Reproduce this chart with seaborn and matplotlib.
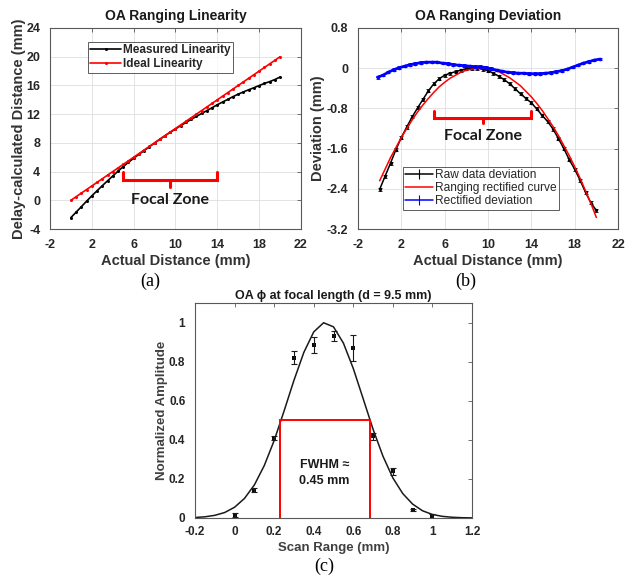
import numpy as np
import pandas as pd
import matplotlib
matplotlib.use("Agg")
import matplotlib.pyplot as plt
import seaborn as sns
from matplotlib.lines import Line2D

# ---------------- data ----------------
actual_mm = [0, 0.5, 1, 1.5, 2, 2.5, 3, 3.5, 4, 4.5, 5, 5.5, 6, 6.5, 7, 7.5, 8, 8.5, 9, 9.5,
             10, 10.5, 11, 11.5, 12, 12.5, 13, 13.5, 14, 14.5, 15, 15.5, 16, 16.5, 17, 17.5,
             18, 18.5, 19, 19.5, 20]
measured_mm = [-2.41, -1.65, -0.89, -0.12, 0.62, 1.33, 2.03, 2.71, 3.38, 4.05, 4.69, 5.29, 5.86,
               6.40, 6.93, 7.46, 7.99, 8.50, 9.00, 9.48, 9.95, 10.40, 10.84, 11.27, 11.69, 12.09,
               12.49, 12.90, 13.31, 13.69, 14.06, 14.44, 14.79, 15.10, 15.40, 15.68, 15.99, 16.27,
               16.53, 16.82, 17.17]
ideal_mm = [0, 0.5, 1, 1.5, 2, 2.5, 3, 3.5, 4, 4.5, 5, 5.5, 6, 6.5, 7, 7.5, 8, 8.5, 9, 9.5,
            10, 10.5, 11, 11.5, 12, 12.5, 13, 13.5, 14, 14.5, 15, 15.5, 16, 16.5, 17, 17.5,
            18, 18.5, 19, 19.5, 20]

raw_dev = [-2.41, -2.15, -1.89, -1.62, -1.38, -1.17, -0.97, -0.79, -0.62, -0.45, -0.31, -0.21,
           -0.14, -0.10, -0.07, -0.04, -0.01, 0.0, 0.0, -0.02, -0.05, -0.10, -0.16, -0.23, -0.31,
           -0.41, -0.51, -0.60, -0.69, -0.81, -0.94, -1.06, -1.21, -1.40, -1.60, -1.82, -2.01,
           -2.23, -2.47, -2.68, -2.83]
raw_err = [0.03] * 41

fit_dev = [-2.24, -2.01, -1.78, -1.58, -1.38, -1.20, -1.03, -0.87, -0.73, -0.60, -0.48, -0.37,
           -0.28, -0.20, -0.14, -0.08, -0.04, -0.02, 0.00, 0.00, -0.01, -0.04, -0.07, -0.13,
           -0.19, -0.27, -0.35, -0.46, -0.57, -0.70, -0.84, -1.00, -1.16, -1.34, -1.54, -1.74,
           -1.96, -2.19, -2.44, -2.69, -2.97]

rect_x = [-0.2, 0.3, 0.8, 1.3, 1.8, 2.3, 2.8, 3.3, 3.8, 4.3, 4.8, 5.3, 5.8, 6.3, 6.8, 7.3, 7.8,
          8.3, 8.8, 9.3, 9.8, 10.3, 10.8, 11.3, 11.8, 12.3, 12.8, 13.3, 13.8, 14.3, 14.8, 15.3,
          15.8, 16.3, 16.8, 17.3, 17.8, 18.3, 18.8, 19.3, 19.8, 20.3]
rect_dev = [-0.18, -0.14, -0.08, -0.03, 0.01, 0.04, 0.07, 0.09, 0.11, 0.12, 0.12, 0.12, 0.10,
            0.09, 0.07, 0.06, 0.05, 0.04, 0.03, 0.03, 0.01, -0.01, -0.04, -0.06, -0.08, -0.09,
            -0.10, -0.10, -0.11, -0.11, -0.11, -0.10, -0.09, -0.07, -0.05, -0.02, 0.02, 0.06,
            0.10, 0.13, 0.16, 0.18]
rect_err = [0.025] * 42

scan_x = [0, 0.1, 0.2, 0.3, 0.4, 0.5, 0.6, 0.7, 0.8, 0.9, 1.0]
scan_amp = [0.014, 0.141, 0.409, 0.82, 0.886, 0.932, 0.869, 0.417, 0.238, 0.043, 0.009]
scan_err = [0.010, 0.010, 0.008, 0.032, 0.040, 0.026, 0.066, 0.017, 0.020, 0.005, 0.010]

fit_x = [-0.2, -0.15, -0.1, -0.05, 0, 0.05, 0.1, 0.15, 0.2, 0.25, 0.3, 0.35, 0.4, 0.45, 0.5,
         0.55, 0.6, 0.65, 0.7, 0.75, 0.8, 0.85, 0.9, 0.95, 1.0, 1.05, 1.1, 1.15, 1.2]
fit_amp = [0.0026, 0.0061, 0.0136, 0.028, 0.055, 0.100, 0.169, 0.268, 0.396, 0.547, 0.704,
           0.847, 0.952, 0.999, 0.978, 0.895, 0.765, 0.610, 0.454, 0.316, 0.205, 0.125, 0.071,
           0.037, 0.018, 0.0085, 0.0037, 0.0015, 0.0006]

fwhm_left, fwhm_right, half_max = 0.23, 0.682, 0.5
focal_start, focal_end = 5, 14

# ---------------- style ----------------
sns.set_theme(style="white")
plt.rcParams['font.family'] = ['Liberation Sans', 'DejaVu Sans']
plt.rcParams['mathtext.fontset'] = 'dejavusans'

W, H = 629, 583
fig = plt.figure(figsize=(W / 100, H / 100), dpi=100)
fig.patch.set_facecolor('white')


def rect(l, t, r, b):
    return [l / W, 1 - b / H, (r - l) / W, (b - t) / H]


def style_axes(ax, grid=True, xpad=7, ypad=7, size=9):
    ax.set_facecolor('white')
    for s in ax.spines.values():
        s.set_visible(True)
        s.set_color('0.35')
        s.set_linewidth(0.8)
    ax.tick_params(direction='in', top=True, right=True, length=3, width=0.6,
                   color='0.35', labelsize=size)
    ax.tick_params(axis='x', pad=xpad)
    ax.tick_params(axis='y', pad=ypad)
    for lab in ax.get_xticklabels() + ax.get_yticklabels():
        lab.set_fontweight('bold')
        lab.set_color('0.15')
    if grid:
        ax.grid(True, color='0.87', linewidth=0.6)
        ax.set_axisbelow(True)
    else:
        ax.grid(False)


def fmt(v):
    s = f"{v:g}"
    return "0" if s in ("-0",) else s


# ---------------- panel (a) ----------------
axA = fig.add_axes(rect(50, 28, 301, 229))
sns.lineplot(x=actual_mm, y=measured_mm, ax=axA, color='black', linewidth=1.2,
             marker='o', markersize=2.2, markeredgewidth=0, estimator=None, sort=False,
             label='Measured Linearity')
sns.lineplot(x=actual_mm, y=ideal_mm, ax=axA, color='red', linewidth=1.2,
             marker='o', markersize=2.2, markeredgewidth=0, estimator=None, sort=False,
             label='Ideal Linearity')
axA.set_xlim(-2, 22)
axA.set_ylim(-4, 24)
axA.set_xticks(np.arange(-2, 23, 4))
axA.set_yticks(np.arange(-4, 25, 4))
axA.set_xticklabels([fmt(v) for v in np.arange(-2, 23, 4)])
axA.set_yticklabels([fmt(v) for v in np.arange(-4, 25, 4)])
style_axes(axA)
axA.set_title('OA Ranging Linearity', fontsize=10, fontweight='bold', pad=6, color='0.1')
axA.set_xlabel('Actual Distance (mm)', fontsize=10.5, fontweight='bold', color='0.2', labelpad=2)
axA.set_ylabel('Delay-calculated Distance (mm)', fontsize=10.5, fontweight='bold', color='0.2',
               labelpad=0.5)
legA = axA.legend(loc='upper left', bbox_to_anchor=(0.151, 0.93), borderaxespad=0,
                  prop={'weight': 'bold', 'size': 8.5}, frameon=True, fancybox=False,
                  edgecolor='0.2', handlelength=2.6, handletextpad=0.2, borderpad=0.2,
                  labelspacing=0.15)
legA.get_frame().set_linewidth(0.7)
# focal zone bracket
axA.plot([focal_start, focal_start, focal_end, focal_end], [3.9, 2.85, 2.85, 3.9],
         color='red', lw=2.2, solid_joinstyle='miter')
axA.plot([9.5, 9.5], [2.85, 1.9], color='red', lw=2.2)
axA.text(9.5, 0.0, 'Focal Zone', ha='center', va='center', fontsize=11.5,
         fontweight='bold', family=['Lato', 'DejaVu Sans'], color='0.1')

# ---------------- panel (b) ----------------
axB = fig.add_axes(rect(358, 28, 618, 229))
eb_raw = axB.errorbar(actual_mm, raw_dev, yerr=raw_err, fmt='none', ecolor='black',
                      elinewidth=0.6, capsize=1.2, capthick=0.6)
sns.lineplot(x=actual_mm, y=raw_dev, ax=axB, color='black', linewidth=1.1,
             marker='o', markersize=2.4, markeredgewidth=0, estimator=None, sort=False)
sns.lineplot(x=actual_mm, y=fit_dev, ax=axB, color='red', linewidth=1.1,
             estimator=None, sort=False)
eb_rect = axB.errorbar(rect_x, rect_dev, yerr=rect_err, fmt='none', ecolor='blue',
                       elinewidth=0.6, capsize=1.2, capthick=0.6)
sns.lineplot(x=rect_x, y=rect_dev, ax=axB, color='blue', linewidth=2.0,
             marker='o', markersize=2.6, markeredgewidth=0, estimator=None, sort=False)
axB.set_xlim(-2, 22)
axB.set_ylim(-3.2, 0.8)
xt = np.arange(-2, 23, 4)
yt = [-3.2, -2.4, -1.6, -0.8, 0, 0.8]
axB.set_xticks(xt)
axB.set_yticks(yt)
axB.set_xticklabels([fmt(v) for v in xt])
axB.set_yticklabels(['-3.2', '-2.4', '-1.6', '-0.8', '0', '0.8'])
style_axes(axB)
axB.set_title('OA Ranging Deviation', fontsize=10, fontweight='bold', pad=6, color='0.1')
axB.set_xlabel('Actual Distance (mm)', fontsize=10.5, fontweight='bold', color='0.2', labelpad=2)
axB.set_ylabel('Deviation (mm)', fontsize=10.5, fontweight='bold', color='0.2', labelpad=1.5)
h_raw = (Line2D([], [], color='black', lw=1.1, marker='|', markersize=7, markeredgewidth=0.8))
h_fit = Line2D([], [], color='red', lw=1.1)
h_rect = Line2D([], [], color='blue', lw=1.1, marker='|', markersize=7, markeredgewidth=0.8)
legB = axB.legend([h_raw, h_fit, h_rect],
                  ['Raw data deviation', 'Ranging rectified curve', 'Rectified deviation'],
                  loc='upper left', bbox_to_anchor=(0.173, 0.31), borderaxespad=0,
                  prop={'size': 8.6}, frameon=True, fancybox=False, edgecolor='0.2',
                  handlelength=2.3, handletextpad=0.2, borderpad=0.2, labelspacing=0.1)
legB.get_frame().set_linewidth(0.7)
axB.plot([focal_start, focal_start, focal_end, focal_end], [-0.85, -0.995, -0.995, -0.85],
         color='red', lw=2.2, solid_joinstyle='miter')
axB.plot([9.55, 9.55], [-0.995, -1.1], color='red', lw=2.2)
axB.text(9.55, -1.34, 'Focal Zone', ha='center', va='center', fontsize=11.5,
         fontweight='bold', family=['Lato', 'DejaVu Sans'], color='0.1')

# ---------------- panel (c) ----------------
axC = fig.add_axes(rect(195, 303, 472, 518))
sns.lineplot(x=fit_x, y=fit_amp, ax=axC, color='0.1', linewidth=1.1, estimator=None, sort=False)
axC.errorbar(scan_x, scan_amp, yerr=scan_err, fmt='none', ecolor='0.1', elinewidth=0.8,
             capsize=2.2, capthick=0.8)
sns.scatterplot(x=scan_x, y=scan_amp, ax=axC, color='0.05', s=9, marker='s', linewidth=0)
axC.plot([fwhm_left, fwhm_left, fwhm_right, fwhm_right], [0, half_max, half_max, 0],
         color='red', lw=1.4, solid_joinstyle='miter', clip_on=False)
axC.set_xlim(-0.2, 1.2)
axC.set_ylim(0, 1.1)
cx = [-0.2, 0, 0.2, 0.4, 0.6, 0.8, 1.0, 1.2]
cy = [0, 0.2, 0.4, 0.6, 0.8, 1.0]
axC.set_xticks(cx)
axC.set_yticks(cy)
axC.set_xticklabels(['-0.2', '0', '0.2', '0.4', '0.6', '0.8', '1', '1.2'])
axC.set_yticklabels(['0', '0.2', '0.4', '0.6', '0.8', '1'])
style_axes(axC, grid=False, xpad=5.5, ypad=7, size=8.5)
axC.set_title('OA \u03d5 at focal length (d = 9.5 mm)', fontsize=9, fontweight='bold',
              pad=3, color='0.1')
axC.set_xlabel('Scan Range (mm)', fontsize=9.5, fontweight='bold', color='0.25', labelpad=3.5)
axC.set_ylabel('Normalized Amplitude', fontsize=9.5, fontweight='bold', color='0.25', labelpad=1)
axC.text(0.455, 0.23, 'FWHM \u2248\n0.45 mm', ha='center', va='center', fontsize=9,
         fontweight='bold', color='0.1', linespacing=1.5)

# ---------------- sub-captions ----------------
for label, px, py in [('(a)', 150, 281), ('(b)', 466, 281), ('(c)', 324, 566)]:
    fig.text(px / W, 1 - py / H, label, ha='center', va='center', fontsize=13,
             family=['Liberation Serif', 'DejaVu Serif'], color='black')

fig.savefig('out.png', dpi=100, facecolor='white')
